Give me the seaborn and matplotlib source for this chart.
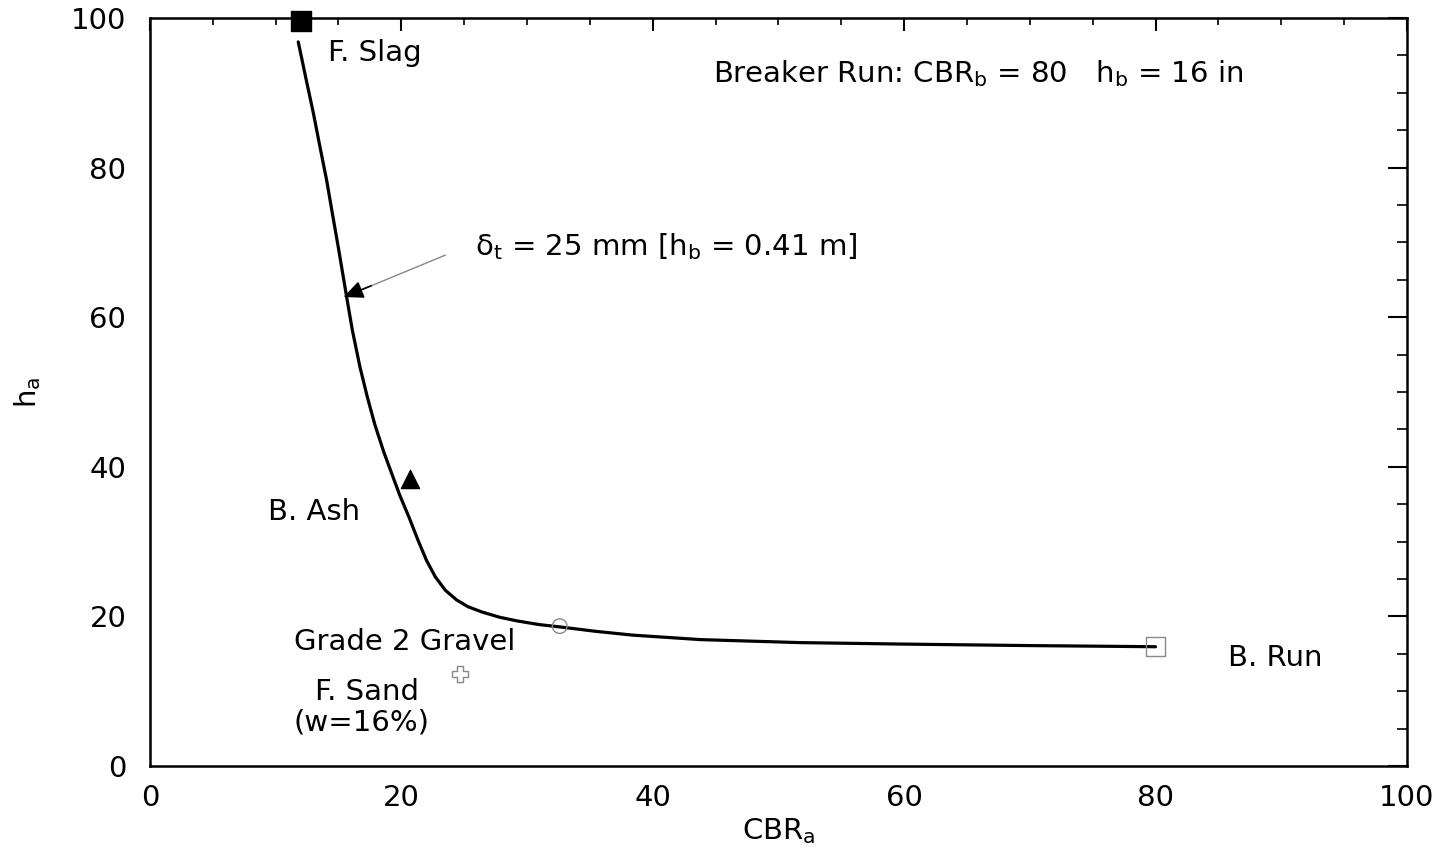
import matplotlib
matplotlib.use("Agg")
import matplotlib.pyplot as plt
import seaborn as sns
import pandas as pd

# ---- data ----
curve_cbr = [11.8, 12.4, 13.0, 13.5, 14.06, 14.5, 14.98, 15.65, 16.1, 16.7, 17.3, 17.9, 18.6, 19.3,
             19.9, 20.6, 21.3, 22.0, 22.7, 23.5, 24.4, 25.3, 26.4, 27.8, 29.2, 31.0, 32.6, 35.5,
             38.4, 43.8, 51.7, 60.0, 70.0, 80.0]
curve_h = [96.8, 92.0, 87.3, 83.0, 78.3, 74.0, 69.4, 62.7, 58.3, 53.4, 49.3, 45.6, 42.0, 38.8,
           36.1, 33.3, 30.3, 27.5, 25.3, 23.5, 22.2, 21.3, 20.6, 19.9, 19.4, 18.9, 18.6, 18.0,
           17.5, 16.9, 16.5, 16.3, 16.1, 15.95]

point_names = ["F. Slag", "B. Ash", "Grade 2 Gravel", "F. Sand", "B. Run"]
point_cbr = [12.0, 20.7, 32.6, 24.7, 80.0]
point_h = [99.6, 38.4, 18.7, 12.3, 16.0]

x_ticks = [0, 20, 40, 60, 80, 100]
y_ticks = [0, 20, 40, 60, 80, 100]

sns.set_theme(style="white")
plt.rcParams['font.family'] = ['DejaVu Sans']
plt.rcParams['mathtext.fontset'] = 'dejavusans'
for k in ['text.color', 'axes.labelcolor', 'xtick.color', 'ytick.color', 'axes.edgecolor']:
    plt.rcParams[k] = 'black'

fig = plt.figure(figsize=(14.5, 8.52), dpi=100)
ax = fig.add_axes([0.1034, 0.1009, 0.8669, 0.878])

curve_df = pd.DataFrame({"cbr": curve_cbr, "h": curve_h})
sns.lineplot(data=curve_df, x="cbr", y="h", sort=False, color="black", linewidth=2.3, ax=ax, zorder=3)

styles = {
    "F. Slag": dict(marker="s", s=190, facecolor="black", edgecolor="black"),
    "B. Ash": dict(marker="^", s=170, facecolor="black", edgecolor="black"),
    "Grade 2 Gravel": dict(marker="o", s=110, facecolor="none", edgecolor="#888888"),
    "F. Sand": dict(marker="P", s=130, facecolor="white", edgecolor="#888888"),
    "B. Run": dict(marker="s", s=200, facecolor="none", edgecolor="#888888"),
}
for name, xv, yv in zip(point_names, point_cbr, point_h):
    st = styles[name]
    sns.scatterplot(x=[xv], y=[yv], marker=st["marker"], s=st["s"],
                    facecolor=st["facecolor"], edgecolor=st["edgecolor"],
                    linewidth=1.0, ax=ax, zorder=4, clip_on=False)

ax.set_xlim(0, 100)
ax.set_ylim(0, 100)
ax.set_xticks(x_ticks)
ax.set_yticks(y_ticks)
ax.set_xticks(range(0, 101, 5), minor=True)
ax.set_yticks(range(0, 101, 5), minor=True)
ax.tick_params(which='both', direction='in', top=True, right=True, colors='black')
ax.tick_params(which='major', width=1.5, labelsize=21)
ax.tick_params(which='minor', width=1.2)
ax.tick_params(axis='x', which='major', length=9.5, pad=13)
ax.tick_params(axis='x', which='minor', length=5)
ax.tick_params(axis='y', which='major', length=13.5, pad=17)
ax.tick_params(axis='y', which='minor', length=7)
for sp in ax.spines.values():
    sp.set_color('black')
    sp.set_linewidth(1.8)

ax.set_xlabel("CBR$_\\mathregular{a}$", fontsize=21, labelpad=3)
ax.set_ylabel("h$_\\mathregular{a}$", fontsize=21, labelpad=20)

fs = 21
ax.text(14.2, 95.3, "F. Slag", fontsize=fs, va='center', ha='left')
ax.text(44.8, 92.5, "Breaker Run: CBR$_\\mathregular{b}$ = 80   h$_\\mathregular{b}$ = 16 in", fontsize=fs, va='center', ha='left')
ax.text(25.9, 69.5, "δ$_\\mathregular{t}$ = 25 mm [h$_\\mathregular{b}$ = 0.41 m]", fontsize=fs, va='center', ha='left')
ax.text(9.4, 33.9, "B. Ash", fontsize=fs, va='center', ha='left')
ax.text(20.3, 16.6, "Grade 2 Gravel", fontsize=fs, va='center', ha='center')
ax.text(17.3, 9.9, "F. Sand", fontsize=fs, va='center', ha='center')
ax.text(16.8, 5.8, "(w=16%)", fontsize=fs, va='center', ha='center')
ax.text(85.8, 14.4, "B. Run", fontsize=fs, va='center', ha='left')

# pointer arrow: grey shaft, black head
ax.annotate("", xy=(15.6, 62.8), xytext=(23.5, 68.3),
            arrowprops=dict(arrowstyle='-', color='#888888', lw=1.0, shrinkA=0, shrinkB=0))
ax.annotate("", xy=(15.4, 62.7), xytext=(17.6, 64.2),
            arrowprops=dict(arrowstyle='-|>,head_length=1.0,head_width=0.45', color='black', lw=1.2,
                            shrinkA=0, shrinkB=0))

fig.savefig("out.png", dpi=100)
